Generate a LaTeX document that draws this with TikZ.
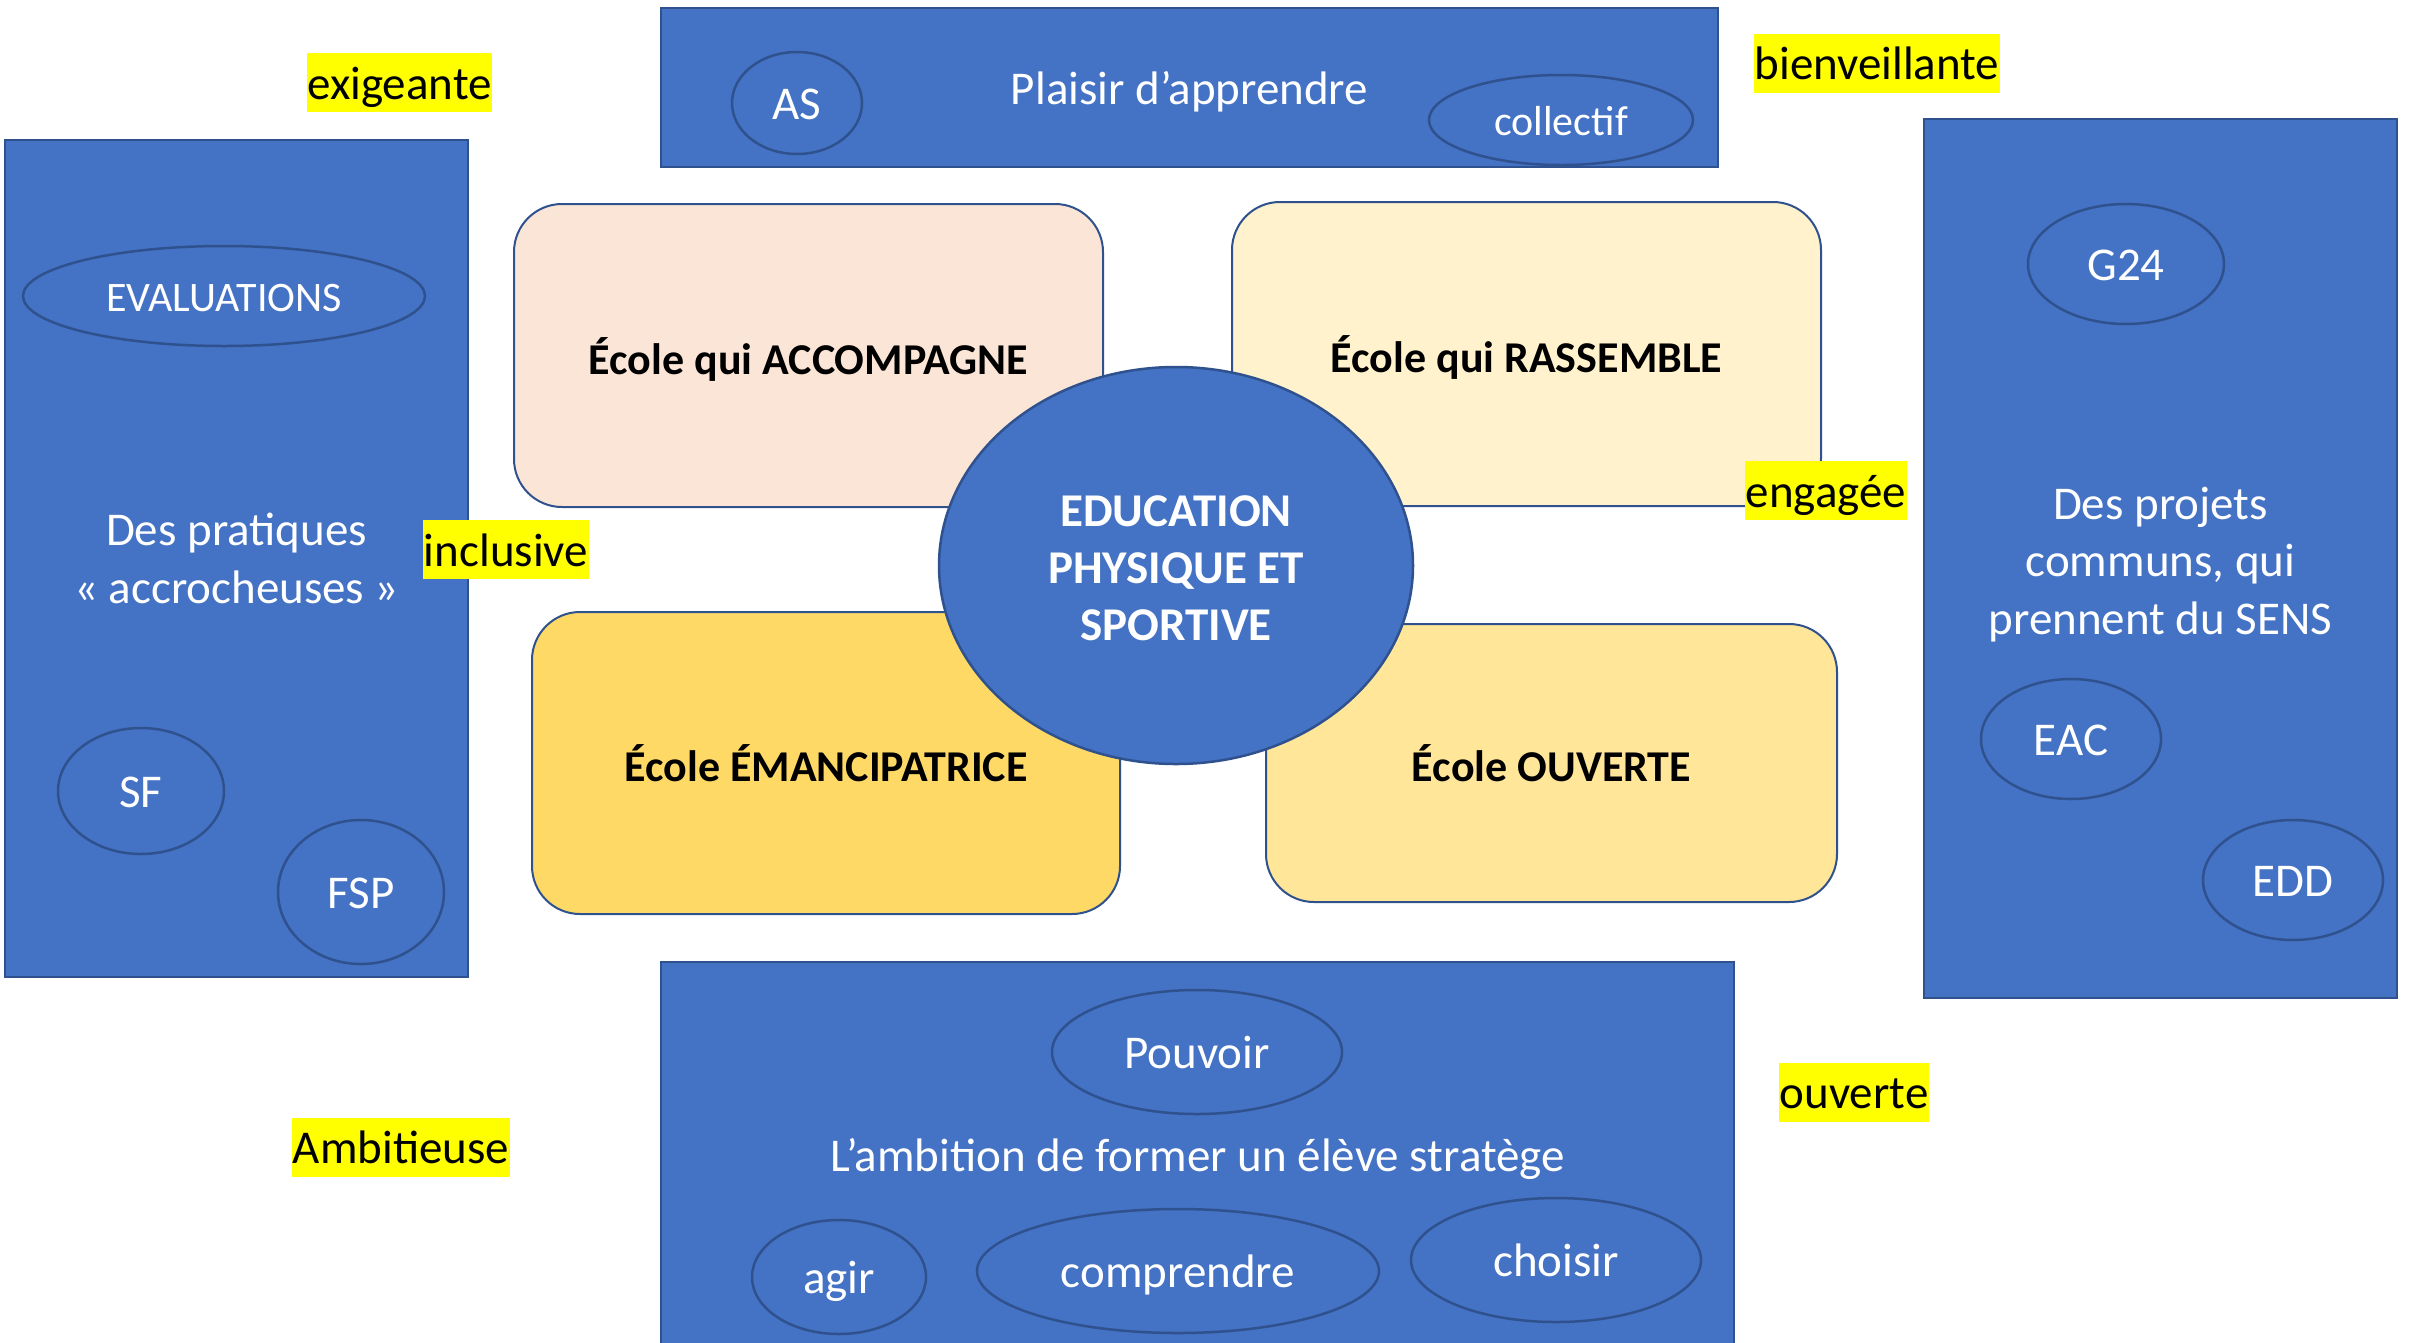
\documentclass[tikz,border=0pt]{standalone}
\usepackage{fontspec}
\setmainfont{Carlito}
\usetikzlibrary{shapes.geometric}
\definecolor{bfill}{HTML}{4472C4}
\definecolor{bline}{HTML}{2F528F}
\definecolor{peach}{HTML}{FBE5D6}
\definecolor{cream}{HTML}{FFF2CC}
\definecolor{gold}{HTML}{FFD966}
\definecolor{lgold}{HTML}{FFE699}
\definecolor{hl}{HTML}{FFFF00}
\begin{document}
\begin{tikzpicture}[x=1pt,y=-1pt,
  bluebox/.style={rectangle, fill=bfill, draw=bline, line width=2.5pt, text=white, inner sep=0pt, align=center, font=\fontsize{47}{57.5}\selectfont},
  line47/.style={text height=46pt, text depth=13pt},
  line42/.style={text height=41pt, text depth=11pt},
  whitetext/.style={text=white, inner sep=0pt, align=center, font=\fontsize{47}{57.5}\selectfont},
  oval/.style={ellipse, fill=bfill, draw=bline, line width=2.5pt, text=white, inner sep=0pt, line47, font=\fontsize{47}{57.5}\selectfont},
  school/.style={rectangle, rounded corners=48pt, draw=bline, line width=2pt, inner sep=0pt, text height=45pt, text depth=8pt, font=\bfseries\fontsize{44}{53}\selectfont},
  tag/.style={fill=hl, inner xsep=0.5pt, inner ysep=0pt, text height=46pt, text depth=13pt, font=\fontsize{47}{57.5}\selectfont}
]
\useasboundingbox (0,0) rectangle (2422,1342);
\clip (0,0) rectangle (2422,1342);
\fill[white] (0,0) rectangle (2422,1342);

% blue boxes
\node[bluebox, line47, minimum width=1057pt, minimum height=159pt] (top) at (1189.5,87.5) {Plaisir d’apprendre};
\node[bluebox, minimum width=463pt, minimum height=837pt] (left) at (236.5,558.5) {Des pratiques\\« accrocheuses »};
\node[bluebox, minimum width=473pt, minimum height=879pt] (right) at (2160.5,558.5) {};
\node[whitetext] (righttxt) at ([yshift=-6pt]right.center) {Des projets\\communs, qui\\prennent du SENS};
\node[bluebox, line47, minimum width=1073pt, minimum height=386pt] (bottom) at (1197.5,1155) {L’ambition de former un élève stratège};

% ovals
\node[oval, minimum width=130pt, minimum height=102pt] (as) at (797,103) {AS};
\node[oval, line42, minimum width=264pt, minimum height=90pt, font=\fontsize{42}{50}\selectfont] (coll) at (1561,120) {collectif};
\node[oval, line42, minimum width=402pt, minimum height=100pt, font=\fontsize{42}{50}\selectfont] (eval) at (224,296) {EVALUATIONS};
\node[oval, minimum width=166pt, minimum height=126pt] (sf) at (141,791) {SF};
\node[oval, minimum width=166pt, minimum height=144pt] (fsp) at (361,892) {FSP};
\node[oval, minimum width=196pt, minimum height=120pt] (g24) at (2126,264) {G24};
\node[oval, minimum width=180pt, minimum height=120pt] (eac) at (2071,739) {EAC};
\node[oval, minimum width=180pt, minimum height=120pt] (edd) at (2293,880) {EDD};
\node[oval, minimum width=290pt, minimum height=124pt] (pouv) at (1197,1052) {Pouvoir};
\node[oval, minimum width=174pt, minimum height=114pt] (agir) at (839,1277) {agir};
\node[oval, minimum width=402pt, minimum height=124pt] (comp) at (1178,1271) {comprendre};
\node[oval, minimum width=290pt, minimum height=124pt] (chois) at (1556,1260) {choisir};

% school boxes
\node[school, fill=peach, minimum width=589pt, minimum height=303pt] (acc) at (808.5,355.5) {École qui ACCOMPAGNE};
\node[school, fill=cream, minimum width=589pt, minimum height=304pt] (ras) at (1526.5,354) {École qui RASSEMBLE};
\node[school, fill=gold, minimum width=588pt, minimum height=302pt] (eman) at (826,763) {École ÉMANCIPATRICE};
\node[school, fill=lgold, minimum width=571pt, minimum height=278pt] (ouv) at (1551.5,763) {École OUVERTE};

% centre
\node[ellipse, fill=bfill, draw=bline, line width=2.5pt, inner sep=0pt, minimum width=474pt, minimum height=397pt] (eps) at (1176,565.5) {};
\node[whitetext, font=\bfseries\fontsize{47}{57}\selectfont] (epstxt) at ([yshift=-3pt]eps.center) {EDUCATION\\PHYSIQUE ET\\SPORTIVE};

% tags
\node[tag] (t1) at (399.5,82.5) {exigeante};
\node[tag] (t2) at (1877,63) {bienveillante};
\node[tag] (t3) at (506,549.5) {inclusive};
\node[tag] (t4) at (1826,490.5) {engagée};
\node[tag] (t5) at (401,1147) {Ambitieuse};
\node[tag] (t6) at (1854,1092) {ouverte};
\end{tikzpicture}
\end{document}
